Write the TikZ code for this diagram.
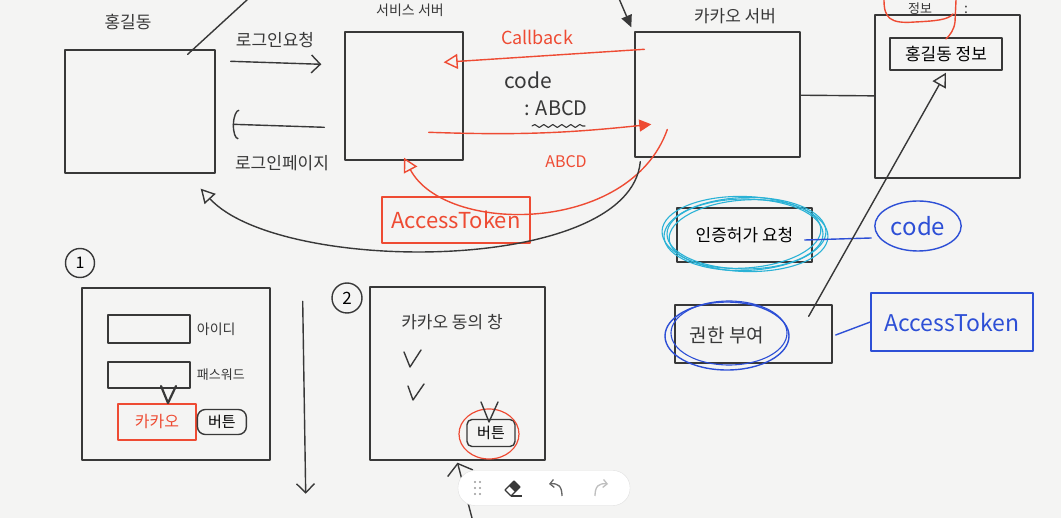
\documentclass[tikz,border=0pt]{standalone}
\usepackage{fontspec}
\setmainfont{Noto Sans CJK KR}
\usetikzlibrary{positioning, calc, arrows.meta, shapes.geometric, decorations.pathmorphing}

\definecolor{paper}{HTML}{F4F4F3}
\definecolor{ink}{HTML}{383838}
\definecolor{marker}{HTML}{EE4B33}
\definecolor{hilite}{HTML}{2AB2D6}
\definecolor{navyink}{HTML}{2D4FD6}

\newcommand\fsz[1]{\fontsize{#1}{#1}\selectfont}

\tikzset{
  sketch/.style={draw=ink, line width=1.4pt, line cap=round, line join=round},
  box/.style={sketch, rectangle, inner sep=0pt},
  redline/.style={draw=marker, line width=1.4pt, line cap=round, line join=round},
  blueline/.style={draw=navyink, line width=1.4pt, line cap=round},
  cyanline/.style={draw=hilite, line width=1.1pt},
  scribble/.style={text=ink, inner sep=0pt},
  open tip/.style={-{Triangle[open, length=14pt, width=15pt]}},
  barb tip/.style={-{Straight Barb[length=9pt, width=18pt]}},
}

\begin{document}
\begin{tikzpicture}[x=1pt, y=-1pt]
\path[use as bounding box, fill=paper] (0,0) rectangle (1061,518);
\clip (0,0) rectangle (1061,518);

% top row: the four parties
\node[box, minimum width=150pt, minimum height=123pt] (client) at (140,111.5) {};
\node[box, minimum width=118pt, minimum height=128pt] (service) at (404,96) {};
\node[box, minimum width=165pt, minimum height=125pt] (kakao) at (717.5,94.5) {};
\node[box, minimum width=145pt, minimum height=163pt] (resource) at (947.5,96.5) {};
\node[box, minimum width=112pt, minimum height=32pt, font=\fsz{17}] (info) at (946,54) {홍길동 정보};

\node[scribble, font=\fsz{17}] (client-name) at (128,22) {홍길동};
\node[scribble, font=\fsz{14}] (service-name) at (410,10) {서비스 서버};
\node[scribble, font=\fsz{17}] (kakao-name) at (735,16) {카카오 서버};
\node[scribble, font=\fsz{13}] (info-name) at (920,9) {정보};
\node[scribble, font=\fsz{14}] (info-colon) at (966,10) {:};
\draw[redline] (884,0) .. controls (884,18) and (890,24) .. (915,22) .. controls (935,21) and (948,20) .. (953,14);
\draw[redline] (956,0) -- (955,22) .. controls (954,30) and (950,35) .. (946,39);

% client <-> service
\draw[sketch] ($(client.north east)+(-28,5)$) -- ($(client.north east)+(32,-50)$);
\draw[sketch, barb tip] ($(client.north east)+(15,12)$) -- ($(service.north west)+(-23,33)$);
\node[scribble, font=\fsz{17}] (req-label) at (275,40) {로그인요청};
\draw[sketch, -{Arc Barb[length=6pt, width=30pt]}] ($(service.north west)+(-20,96)$) -- ($(client.north east)+(17,75)$);
\node[scribble, font=\fsz{17}] (page-label) at (282,163) {로그인페이지};

% service <-> kakao
\draw[sketch, -{Triangle[length=12pt, width=11pt]}] ($(kakao.north west)+(-15,-32)$) -- ($(kakao.north west)+(-3,-4)$);
\draw[redline, open tip] ($(kakao.north west)+(10,18)$) -- ($(service.north east)+(-20,31)$);
\node[scribble, text=marker, font=\fsz{18}] (callback) at (537,37) {Callback};
\node[scribble, font=\fsz{21}] (code-label) at (528,80) {code};
\node[scribble, font=\fsz{20}] (code-value) at (556,108) {: ABCD};
\draw[sketch, line width=1.1pt, decorate, decoration={snake, amplitude=1.5pt, segment length=9pt}] (532,126) -- (585,126);
\draw[redline, -{Triangle[length=12pt, width=12pt]}] ($(service.north east)+(-35,101)$) to[bend right=4] ($(kakao.north west)+(17,93)$);
\node[scribble, text=marker, font=\fsz{16}] (abcd) at (566,162) {ABCD};
\draw[sketch] (kakao) -- (resource);

% token and redirect back
\node[box, draw=marker, minimum width=148pt, minimum height=46pt, text=marker, font=\fsz{22}] (token) at (456,220) {AccessToken};
\draw[redline, open tip] ($(kakao.west)+(33,35)$) .. controls (630,235) and (445,235) .. ([yshift=3pt]service.south);
\draw[sketch, open tip] ($(kakao.south west)+(6,4)$) .. controls (630,275) and (280,275) .. ($(client.south east)+(-15,15)$);

% grant steps
\node[box, minimum width=135pt, minimum height=54pt, font=\fsz{17}] (authkey) at (744.5,235) {인증허가 요청};
\foreach \r/\a in {0/0, 3/2, -2/4, 5/-2}
  \draw[cyanline, rotate around={\a:(745,234)}] (745,234) ellipse [x radius=78+\r, y radius=35+\r/2];
\node[ellipse, draw=navyink, line width=1.4pt, minimum width=76pt, minimum height=50pt, text=navyink, font=\fsz{24}] (code) at (918,226) {code};
\draw[blueline] ($(authkey.east)+(-8,5)$) -- ($(code.west)+(-3,12)$);

\node[box, minimum width=157pt, minimum height=58pt] (grant) at (753.5,334) {};
\node[scribble, font=\fsz{19}] (grant-label) at (727,335) {권한 부여};
\draw[blueline] (727,336) ellipse [x radius=62, y radius=34];
\draw[blueline, line width=1.1pt] (729,333) ellipse [x radius=58, y radius=32];
\node[box, draw=navyink, minimum width=162pt, minimum height=58pt, text=navyink, font=\fsz{23}] (grant-token) at (952,322) {AccessToken};
\draw[blueline] ($(grant.east)+(3,1)$) -- (grant-token.west);
\draw[sketch, open tip] ($(grant.north east)+(-24,12)$) -- ($(info.south)+(0,2)$);

% screen 1: login form
\node[circle, sketch, minimum size=29pt, inner sep=0pt, font=\fsz{16}] (step-one) at (80,263) {1};
\node[box, minimum width=188pt, minimum height=172pt] (screen-one) at (176,374) {};
\node[box, minimum width=82pt, minimum height=28pt] (id-field) at (149,329) {};
\node[scribble, font=\fsz{14}, right=6pt of id-field] (id-label) {아이디};
\node[box, minimum width=82pt, minimum height=26pt] (pw-field) at (149,375) {};
\node[scribble, font=\fsz{13}, right=6pt of pw-field] (pw-label) {패스워드};
\node[box, draw=marker, minimum width=78pt, minimum height=36pt, text=marker, font=\fsz{16}] (kakao-btn) at (157,422) {카카오};
\node[box, rounded corners=8pt, minimum width=49pt, minimum height=25pt, font=\fsz{15}, right=0pt of kakao-btn] (btn-one) {버튼};
\draw[sketch, line width=2.2pt] (161,386) -- (168,403) -- (176,386);
\draw[sketch, barb tip] ($(screen-one.north east)+(32,14)$) -- ($(screen-one.south east)+(35,33)$);

% screen 2: consent
\node[circle, sketch, minimum size=30pt, inner sep=0pt, font=\fsz{17}] (step-two) at (347,298) {2};
\node[box, minimum width=175pt, minimum height=173pt] (screen-two) at (457.5,373.5) {};
\node[scribble, font=\fsz{17}] (consent) at (452,322) {카카오 동의 창};
\draw[sketch] (404,352) -- (410,367) -- (421,350);
\draw[sketch] (408,386) -- (413,400) -- (424,384);
\node[box, rounded corners=5pt, minimum width=48pt, minimum height=27pt, font=\fsz{15}] (btn-two) at (491,433) {버튼};
\draw[redline, line width=1.2pt] (489,434) ellipse [x radius=30, y radius=25];
\draw[sketch] (481,402) -- (489,422) -- (498,402);
\draw[sketch, -{Straight Barb[length=10pt, width=26pt]}] (472,518) -- ([yshift=-2pt]screen-two.south);

% toolbar
\node[rectangle, rounded corners=17pt, fill=white, draw=black!12, minimum width=172pt, minimum height=35pt] (toolbar) at (544,488) {};
\foreach \i in {0,1,2}
  \foreach \j in {0,1}
    \fill[black!40] (475+5*\j,482+6*\i) circle (1.2);
\draw[ink, line width=1.2pt, line join=round] (505,490) -- (514,481) -- (520,487) -- (511,496) -- cycle;
\fill[ink] (514,481) -- (520,487) -- (515,492) -- (509,486) -- cycle;
\draw[ink, line width=1.2pt] (511,496) -- (522,496);
\draw[black!60, line width=1.3pt, -{Straight Barb[length=4pt, width=8pt]}] (562,496) .. controls (562,486) and (558,483) .. (549,484);
\draw[black!25, line width=1.3pt, -{Straight Barb[length=4pt, width=8pt]}] (595,496) .. controls (595,486) and (599,483) .. (608,484);
\end{tikzpicture}
\end{document}
